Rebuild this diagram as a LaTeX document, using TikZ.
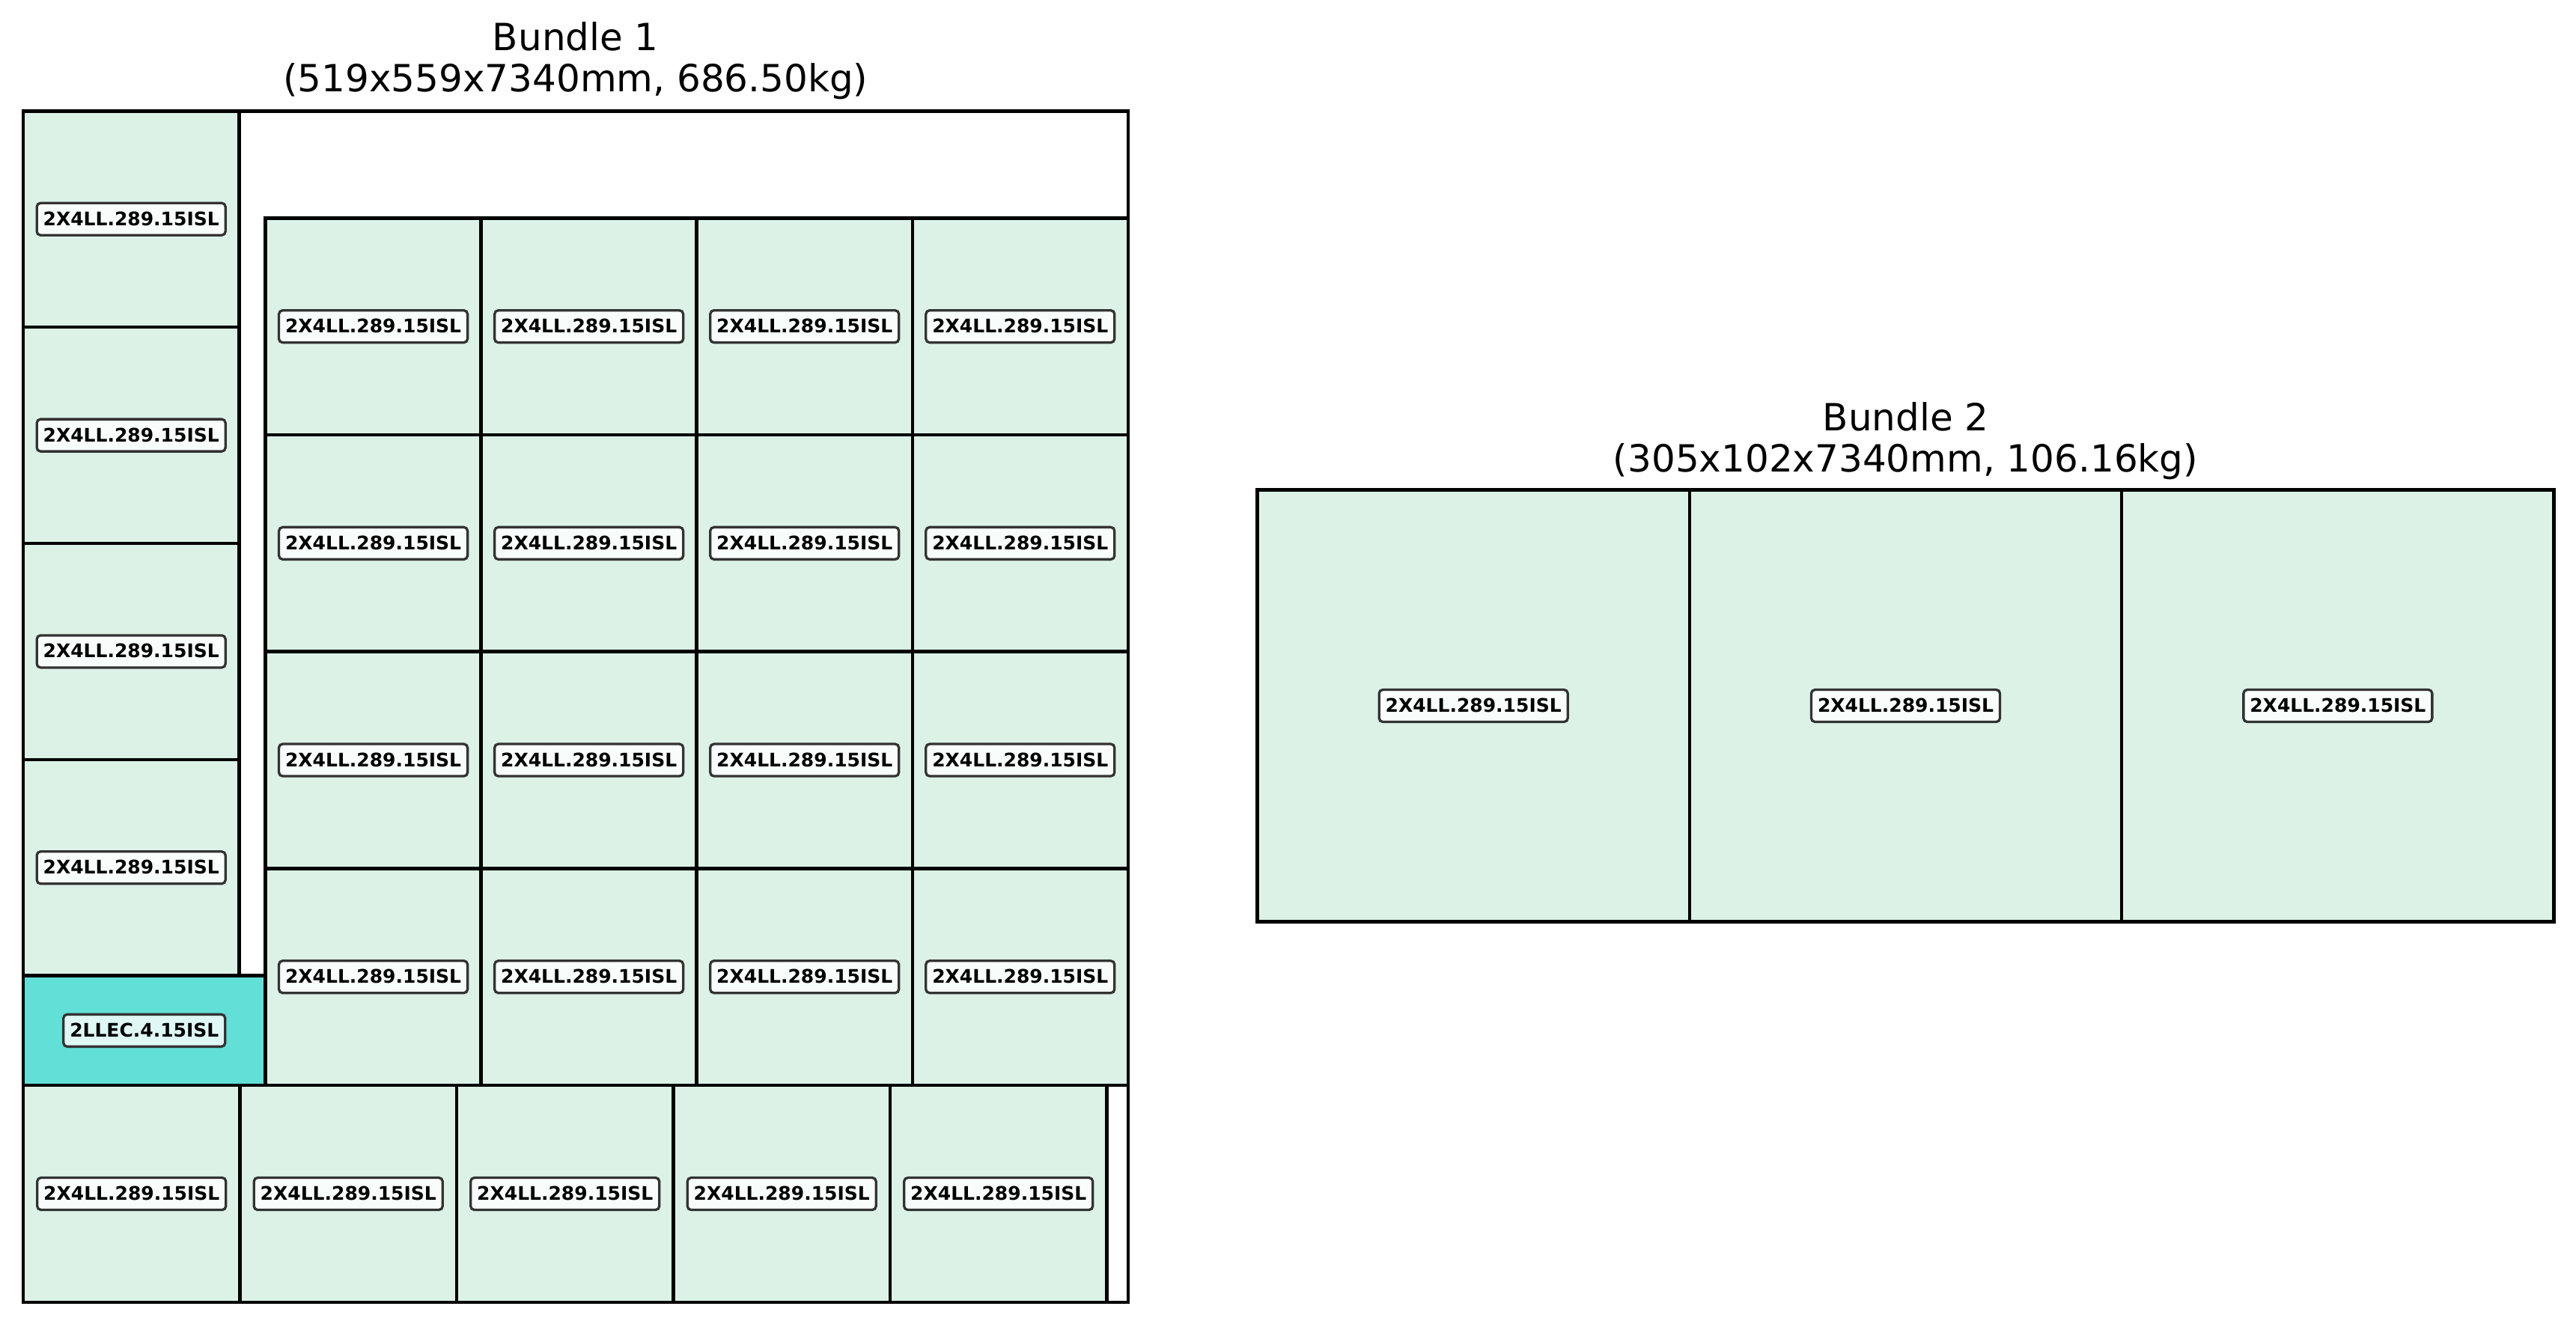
\documentclass[tikz,border=0pt]{standalone}
\usepackage{fontspec}
\setmainfont{DejaVu Sans}
\usepackage{tikz}
\definecolor{mint}{RGB}{220,242,231}
\definecolor{aqua}{RGB}{98,223,214}
\definecolor{tagline}{RGB}{51,51,51}
\tikzset{piece/.style={draw=black, line width=0.045cm, fill=mint}}
\tikzset{pieceSpecial/.style={draw=black, line width=0.045cm, fill=aqua}}
\tikzset{outline/.style={draw=black, line width=0.045cm}}
\tikzset{tag/.style={draw=tagline, line width=0.033cm, fill=white, fill opacity=0.8, text opacity=1, rounded corners=0.05cm, inner xsep=0.085cm, inner ysep=0.11cm, text height=0.19cm, text depth=0.02cm, font=\fontsize{7.11}{8}\selectfont\bfseries}}
\tikzset{title/.style={align=center, inner sep=0pt, font=\fontsize{14.23}{15.65}\selectfont}}

\begin{document}
\begin{tikzpicture}

\path[use as bounding box, fill=white] (0,0) rectangle (34.41cm,17.68cm);

\node[title, anchor=base] (t1) at (7.689cm, 16.45cm) {Bundle 1\\(519x559x7340mm, 686.50kg)};
\node[title, anchor=base] (t2) at (25.456cm, 11.375cm) {Bundle 2\\(305x102x7340mm, 106.16kg)};

% bundle 1
\begin{scope}[shift={(0.31cm,0.28cm)}, x=0.02838cm, y=0.02842cm]
\draw[outline, fill=white] (0,0) rectangle (520,559.9);

\draw[piece] (0,0) rectangle (102,102);
\draw[piece] (102,0) rectangle (204,102);
\draw[piece] (204,0) rectangle (306,102);
\draw[piece] (306,0) rectangle (408,102);
\draw[piece] (408,0) rectangle (510,102);
\node[tag] (r1) at (51,51) {2X4LL.289.15ISL};
\node[tag] (r2) at (153,51) {2X4LL.289.15ISL};
\node[tag] (r3) at (255,51) {2X4LL.289.15ISL};
\node[tag] (r4) at (357,51) {2X4LL.289.15ISL};
\node[tag] (r5) at (459,51) {2X4LL.289.15ISL};

\draw[pieceSpecial] (0,102) rectangle (114,153.5);
\node[tag] (c1) at (57,127.75) {2LLEC.4.15ISL};

\draw[piece] (0,153.5) rectangle (101.6,255.1);
\draw[piece] (0,255.1) rectangle (101.6,356.7);
\draw[piece] (0,356.7) rectangle (101.6,458.3);
\draw[piece] (0,458.3) rectangle (101.6,559.9);
\node[tag] (l1) at (50.8,204.3) {2X4LL.289.15ISL};
\node[tag] (l2) at (50.8,305.9) {2X4LL.289.15ISL};
\node[tag] (l3) at (50.8,407.5) {2X4LL.289.15ISL};
\node[tag] (l4) at (50.8,509.1) {2X4LL.289.15ISL};

\draw[piece] (114,102) rectangle (215.5,203.9);
\draw[piece] (215.5,102) rectangle (317,203.9);
\draw[piece] (317,102) rectangle (418.5,203.9);
\draw[piece] (418.5,102) rectangle (520,203.9);
\draw[piece] (114,203.9) rectangle (215.5,305.8);
\draw[piece] (215.5,203.9) rectangle (317,305.8);
\draw[piece] (317,203.9) rectangle (418.5,305.8);
\draw[piece] (418.5,203.9) rectangle (520,305.8);
\draw[piece] (114,305.8) rectangle (215.5,407.7);
\draw[piece] (215.5,305.8) rectangle (317,407.7);
\draw[piece] (317,305.8) rectangle (418.5,407.7);
\draw[piece] (418.5,305.8) rectangle (520,407.7);
\draw[piece] (114,407.7) rectangle (215.5,509.6);
\draw[piece] (215.5,407.7) rectangle (317,509.6);
\draw[piece] (317,407.7) rectangle (418.5,509.6);
\draw[piece] (418.5,407.7) rectangle (520,509.6);

\node[tag] (g11) at (164.75,152.95) {2X4LL.289.15ISL};
\node[tag] (g12) at (266.25,152.95) {2X4LL.289.15ISL};
\node[tag] (g13) at (367.75,152.95) {2X4LL.289.15ISL};
\node[tag] (g14) at (469.25,152.95) {2X4LL.289.15ISL};
\node[tag] (g21) at (164.75,254.85) {2X4LL.289.15ISL};
\node[tag] (g22) at (266.25,254.85) {2X4LL.289.15ISL};
\node[tag] (g23) at (367.75,254.85) {2X4LL.289.15ISL};
\node[tag] (g24) at (469.25,254.85) {2X4LL.289.15ISL};
\node[tag] (g31) at (164.75,356.75) {2X4LL.289.15ISL};
\node[tag] (g32) at (266.25,356.75) {2X4LL.289.15ISL};
\node[tag] (g33) at (367.75,356.75) {2X4LL.289.15ISL};
\node[tag] (g34) at (469.25,356.75) {2X4LL.289.15ISL};
\node[tag] (g41) at (164.75,458.65) {2X4LL.289.15ISL};
\node[tag] (g42) at (266.25,458.65) {2X4LL.289.15ISL};
\node[tag] (g43) at (367.75,458.65) {2X4LL.289.15ISL};
\node[tag] (g44) at (469.25,458.65) {2X4LL.289.15ISL};

\draw[outline] (0,0) rectangle (520,559.9);
\end{scope}

% bundle 2
\begin{scope}[shift={(16.795cm,5.363cm)}, x=0.05683cm, y=0.05683cm]
\draw[piece] (0,0) rectangle (101.6,101.6);
\draw[piece] (101.6,0) rectangle (203.2,101.6);
\draw[piece] (203.2,0) rectangle (304.8,101.6);
\node[tag] (s1) at (50.8,50.8) {2X4LL.289.15ISL};
\node[tag] (s2) at (152.4,50.8) {2X4LL.289.15ISL};
\node[tag] (s3) at (254,50.8) {2X4LL.289.15ISL};
\end{scope}

\end{tikzpicture}
\end{document}
